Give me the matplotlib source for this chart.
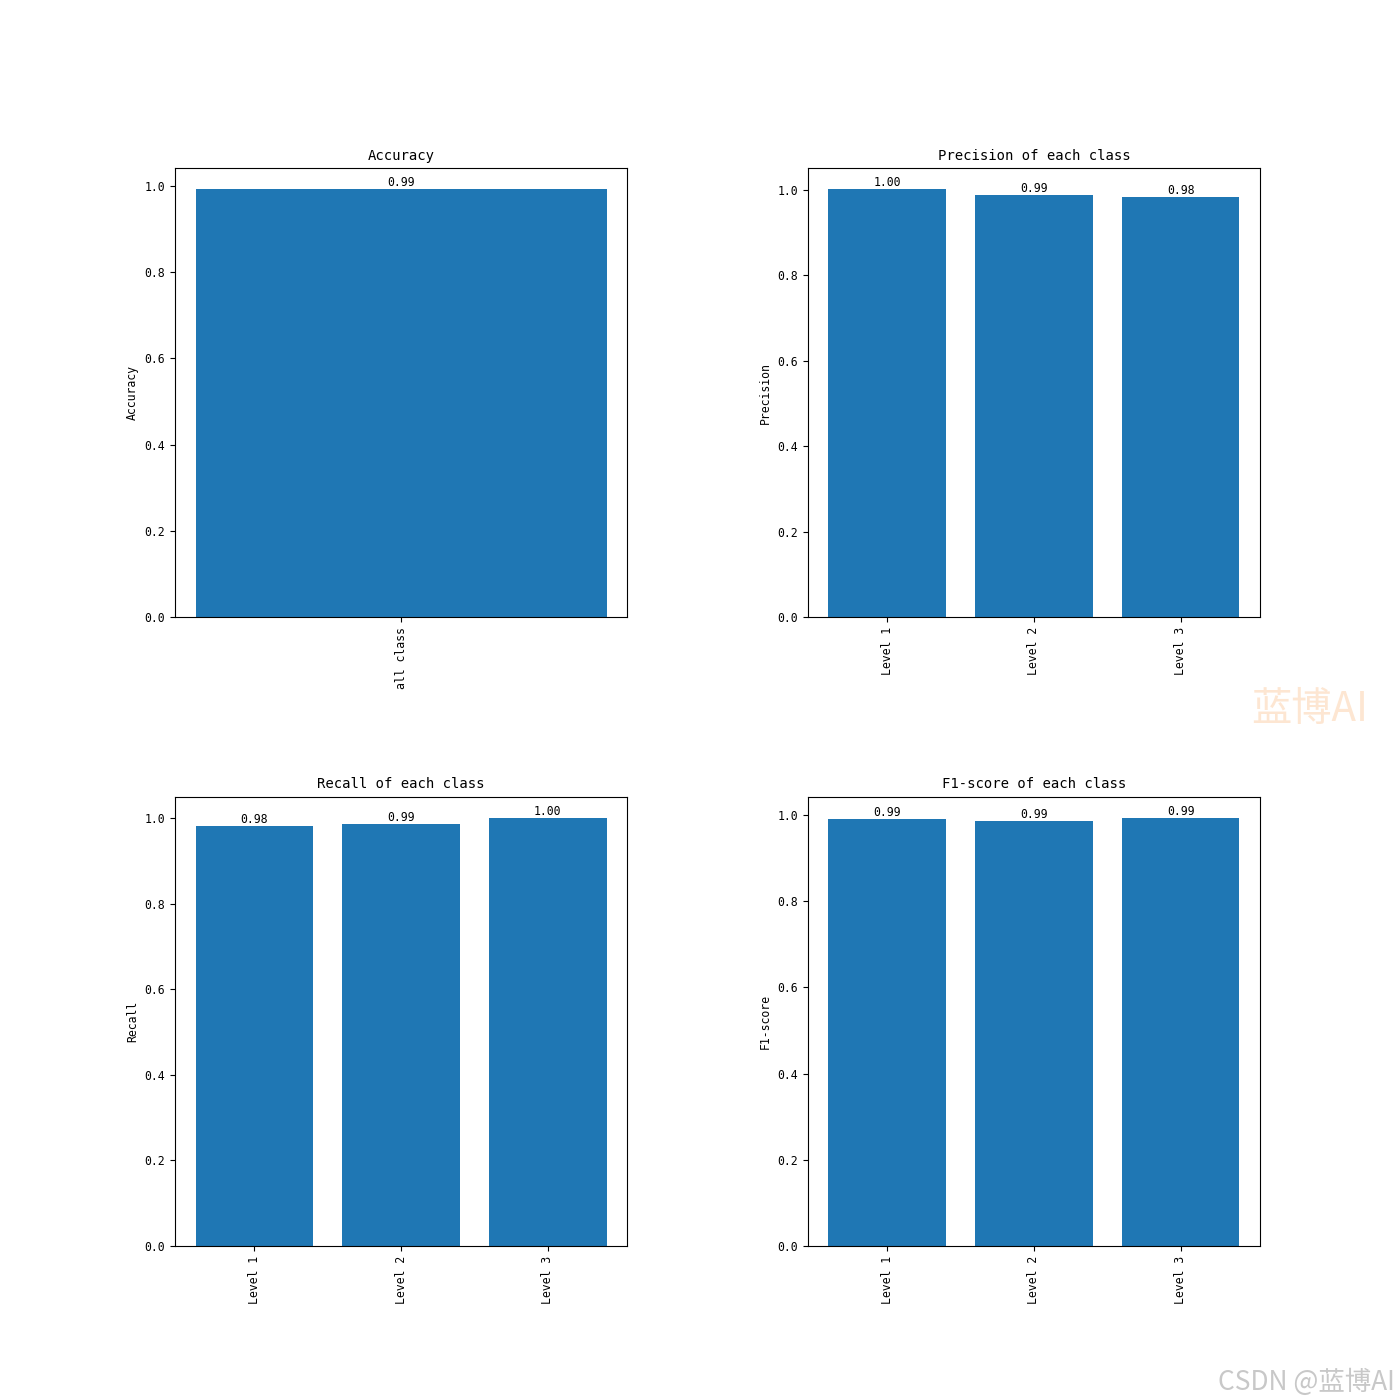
import numpy as np
import matplotlib
matplotlib.use('Agg')
from matplotlib import pyplot as plt

plt.rcParams['font.family'] = ['DejaVu Sans Mono', 'Noto Sans CJK SC']
plt.rcParams['font.size'] = 8.3  # 模拟黑体半角字宽

# 数据
acc_labels = ['all class']
acc_values = [0.991]
levels = ['Level 1', 'Level 2', 'Level 3']
precision = [1.001, 0.988, 0.983]
recall = [0.981, 0.986, 1.0]
f1 = [0.990, 0.986, 0.992]

panels = [
    ('Accuracy', 'Accuracy', acc_labels, acc_values),
    ('Precision of each class', 'Precision', levels, precision),
    ('Recall of each class', 'Recall', levels, recall),
    ('F1-score of each class', 'F1-score', levels, f1),
]

fig = plt.figure(figsize=(14, 14), dpi=100)
plt.subplots_adjust(wspace=0.4, hspace=0.4)

for i, (title, ylabel, labels, values) in enumerate(panels):
    ax = fig.add_subplot(2, 2, i + 1)
    bars = ax.bar(labels, values, color='#1f77b4')
    for b, v in zip(bars, values):
        ax.text(b.get_x() + b.get_width() / 2, b.get_height(), '%.2f' % v,
                ha='center', va='bottom')
    ax.set_title(title)
    ax.set_ylabel(ylabel)
    ax.tick_params(axis='x', labelrotation=90)

# 水印
fig.text(0.894, 0.485, '蓝博AI', fontsize=29, color='#fde6d2',
         family=['Noto Sans CJK SC'])
fig.text(0.87, 0.007, 'CSDN @蓝博AI', fontsize=19, color='#c8c8c8',
         family=['Noto Sans CJK SC'])

plt.savefig('out.png')
